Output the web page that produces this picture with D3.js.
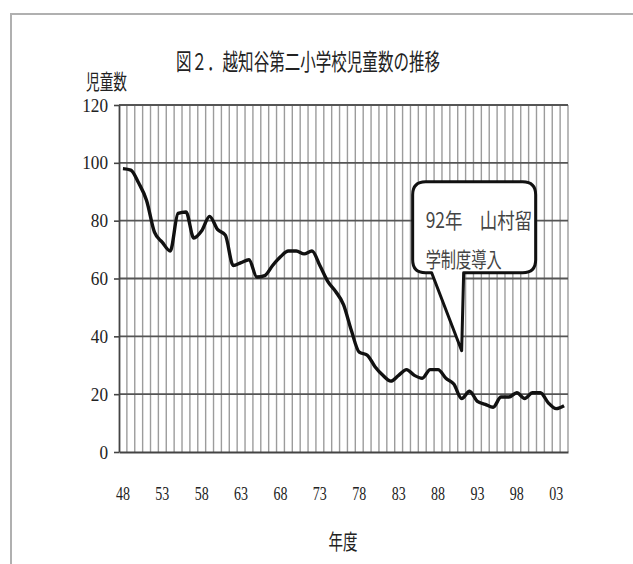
<!DOCTYPE html>
<html>
<head>
<meta charset="utf-8">
<script src="https://cdn.jsdelivr.net/npm/d3@7"></script>
<style>
  body { margin: 0; background: #fff; }
  svg { display: block; }
  .axis path, .axis line { stroke: #444; }
</style>
</head>
<body>
<div class="chart"></div>
<script>
// Data
const years = d3.range(1948, 2005);
const pupils = [
  98, 97.5, 93, 87, 76, 72.5, 69.5, 82.5, 83, 74,
  76.5, 81.5, 77, 75, 64.5, 65.5, 66.5, 60.5, 61, 64.5,
  67.5, 69.5, 69.5, 68.5, 69.5, 64.5, 59, 55.5, 51, 42,
  34.5, 33.5, 29.5, 26.5, 24.5, 26.5, 28.5, 26.5, 25.5, 28.5,
  28.5, 25.5, 23.5, 18.5, 21, 17.5, 16.5, 15.5, 19, 19,
  20.5, 18.5, 20.5, 20.5, 17, 15, 16
];
const yTicks = [0, 20, 40, 60, 80, 100, 120];
const xLabelYears = years.filter((d, i) => i % 5 === 0);

const titleText = '図２．越知谷第二小学校児童数の推移';
const yTitle = '児童数';
const xTitle = '年度';
const note = {year: 1991, value: 35, lines: ['92年　山村留', '学制度導入']};

const data = years.map((y, i) => ({year: y, value: pupils[i]}));

// Layout
const W = 633, H = 564;
const plot = {left: 119, right: 568, top: 105, bottom: 452};

const svg = d3.select('.chart')
  .append('svg')
  .attr('width', W)
  .attr('height', H);

// frame of the scanned figure
svg.append('path')
  .attr('d', `M11,${H} V14 H${W}`)
  .attr('fill', 'none')
  .attr('stroke', '#b0b0b0')
  .attr('stroke-width', 2);

// Scales
const xScale = d3.scaleBand()
  .domain(years)
  .range([plot.left, plot.right])
  .paddingInner(0)
  .paddingOuter(0);

const yScale = d3.scaleLinear()
  .domain([0, 120])
  .range([plot.bottom, plot.top]);

const xMid = d => xScale(d) + xScale.bandwidth() / 2;

// Vertical grid at category borders
svg.append('g')
  .selectAll('line')
  .data(years.slice(1).concat(['end']))
  .join('line')
  .attr('x1', d => d === 'end' ? plot.right : xScale(d))
  .attr('x2', d => d === 'end' ? plot.right : xScale(d))
  .attr('y1', yScale(120))
  .attr('y2', yScale(0))
  .attr('stroke', '#9c9c9c')
  .attr('stroke-width', 1.4);

// Horizontal grid
svg.append('g')
  .selectAll('line')
  .data(yTicks.slice(1))
  .join('line')
  .attr('x1', plot.left)
  .attr('x2', plot.right)
  .attr('y1', d => yScale(d))
  .attr('y2', d => yScale(d))
  .attr('stroke', '#555')
  .attr('stroke-width', 1.8);

// Y axis
const yAxis = d3.axisLeft(yScale)
  .tickValues(yTicks)
  .tickSize(5)
  .tickSizeOuter(0)
  .tickPadding(6);

const yAxisDraw = svg.append('g')
  .attr('class', 'axis')
  .attr('transform', `translate(${plot.left},0)`)
  .call(yAxis);

yAxisDraw.select('.domain').attr('stroke-width', 1.8);
yAxisDraw.selectAll('line').attr('stroke-width', 1.6);
yAxisDraw.selectAll('text')
  .style('font-family', '"Liberation Serif", serif')
  .style('font-size', '19px')
  .attr('fill', '#222')
  .attr('textLength', d => String(d).length * 8.6)
  .attr('lengthAdjust', 'spacingAndGlyphs');

// X axis
const xAxis = d3.axisBottom(xScale)
  .tickValues(xLabelYears)
  .tickFormat(d => String(d).slice(2))
  .tickSize(0)
  .tickSizeOuter(0);

const xAxisDraw = svg.append('g')
  .attr('class', 'axis')
  .attr('transform', `translate(0,${plot.bottom})`)
  .call(xAxis);

xAxisDraw.select('.domain').attr('stroke-width', 2);
xAxisDraw.selectAll('text')
  .attr('y', 48)
  .attr('dy', 0)
  .style('font-family', '"Liberation Serif", serif')
  .style('font-size', '19px')
  .attr('fill', '#222')
  .attr('textLength', 14)
  .attr('lengthAdjust', 'spacingAndGlyphs');

// Line
const line = d3.line()
  .x(d => xMid(d.year))
  .y(d => yScale(d.value))
  .curve(d3.curveMonotoneX);

svg.append('path')
  .datum(data)
  .attr('d', line)
  .attr('fill', 'none')
  .attr('stroke', '#111')
  .attr('stroke-width', 3.4)
  .attr('stroke-linejoin', 'round');

// Callout
const tx = xMid(note.year), ty = yScale(note.value);
const bx0 = tx - 49, bx1 = tx + 74, by0 = ty - 169, by1 = ty - 78, r = 13;
const callout = d3.path();
callout.moveTo(bx0 + r, by0);
callout.lineTo(bx1 - r, by0);
callout.quadraticCurveTo(bx1, by0, bx1, by0 + r);
callout.lineTo(bx1, by1 - r);
callout.quadraticCurveTo(bx1, by1, bx1 - r, by1);
callout.lineTo(tx + 2, by1);
callout.lineTo(tx, ty);
callout.lineTo(tx - 30, by1);
callout.lineTo(bx0 + r, by1);
callout.quadraticCurveTo(bx0, by1, bx0, by1 - r);
callout.lineTo(bx0, by0 + r);
callout.quadraticCurveTo(bx0, by0, bx0 + r, by0);
callout.closePath();

svg.append('path')
  .attr('d', callout.toString())
  .attr('fill', '#fff')
  .attr('stroke', '#111')
  .attr('stroke-width', 3)
  .attr('stroke-linejoin', 'round');

svg.append('g')
  .selectAll('text')
  .data(note.lines)
  .join('text')
  .attr('x', bx0 + 13)
  .attr('y', (d, i) => by0 + 46 + i * 39)
  .text(d => d)
  .style('font-family', '"Noto Sans CJK JP", sans-serif')
  .style('font-size', '21px')
  .attr('fill', '#444')
  .attr('textLength', d => d.length * 15.2)
  .attr('lengthAdjust', 'spacingAndGlyphs');

// Titles
svg.append('text')
  .attr('x', 176)
  .attr('y', 70)
  .text(titleText)
  .style('font-family', '"Noto Sans CJK JP", sans-serif')
  .style('font-size', '23px')
  .attr('fill', '#222')
  .attr('textLength', 264)
  .attr('lengthAdjust', 'spacingAndGlyphs');

svg.append('text')
  .attr('x', 86)
  .attr('y', 89)
  .text(yTitle)
  .style('font-family', '"Noto Sans CJK JP", sans-serif')
  .style('font-size', '21px')
  .attr('fill', '#222')
  .attr('textLength', 41)
  .attr('lengthAdjust', 'spacingAndGlyphs');

svg.append('text')
  .attr('x', 343)
  .attr('y', 549)
  .attr('text-anchor', 'middle')
  .text(xTitle)
  .style('font-family', '"Noto Sans CJK JP", sans-serif')
  .style('font-size', '21px')
  .attr('fill', '#222')
  .attr('textLength', 29)
  .attr('lengthAdjust', 'spacingAndGlyphs');
</script>
</body>
</html>
